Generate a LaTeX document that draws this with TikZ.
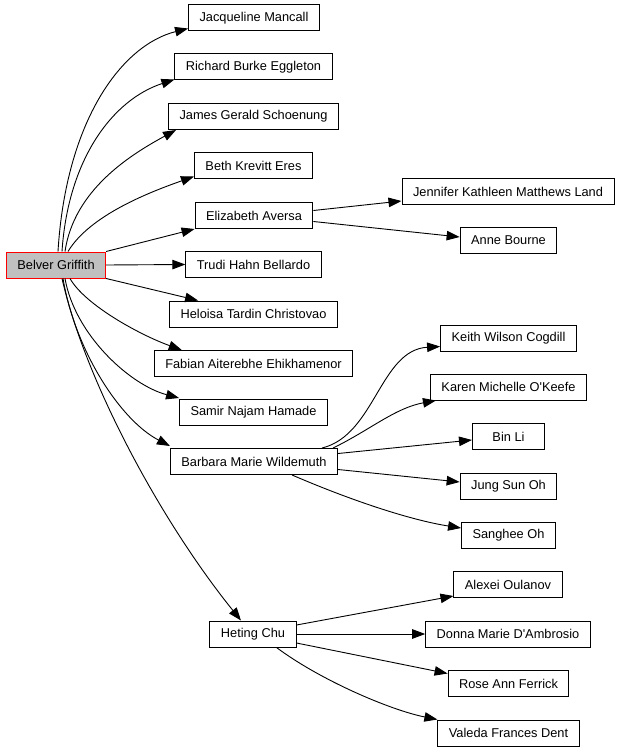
\documentclass[tikz,border=0pt]{standalone}
\usepackage{fontspec}
\setmainfont{Liberation Sans}
\usepackage{tikz}
\usetikzlibrary{arrows.meta}
\definecolor{rootgray}{HTML}{C0C0C0}

\begin{document}
\begin{tikzpicture}[x=1pt, y=-1pt,
  person/.style={rectangle, draw=black, line width=1pt, fill=white, minimum height=26pt, minimum width=72pt, inner xsep=11pt, font=\fontsize{12.8}{14}\selectfont},
  root/.style={person, draw=red, fill=rootgray},
  arr/.style={line width=0.9pt, -{Triangle[length=13pt, width=9.5pt]}}]

\useasboundingbox (0,0) rectangle (622,751);

\node at (56,265) [root] (bg) {Belver Griffith};

\node at (254,18) [person] (jm) {Jacqueline Mancall};
\node at (253.5,67) [person] (rbe) {Richard Burke Eggleton};
\node at (253.5,116.5) [person] (jgs) {James Gerald Schoenung};
\node at (253.5,166) [person] (bke) {Beth Krevitt Eres};
\node at (254,215.5) [person] (ea) {Elizabeth Aversa};
\node at (253.5,264.5) [person] (thb) {Trudi Hahn Bellardo};
\node at (253.5,314) [person] (htc) {Heloisa Tardin Christovao};
\node at (253.5,363.5) [person] (fae) {Fabian Aiterebhe Ehikhamenor};
\node at (253.5,412.5) [person] (snh) {Samir Najam Hamade};
\node at (254,461.5) [person] (bmw) {Barbara Marie Wildemuth};
\node at (253,634) [person] (hc) {Heting Chu};

\node at (508,191.5) [person] (jkml) {Jennifer Kathleen Matthews Land};
\node at (508.5,240) [person] (ab) {Anne Bourne};

\node at (508.5,338) [person] (kwc) {Keith Wilson Cogdill};
\node at (508.5,387) [person] (kmo) {Karen Michelle O\textquotesingle Keefe};
\node at (508.5,436.5) [person] (bl) {Bin Li};
\node at (508.5,486) [person] (jso) {Jung Sun Oh};
\node at (508.5,535.5) [person] (so) {Sanghee Oh};

\node at (508,584.5) [person] (ao) {Alexei Oulanov};
\node at (508,634) [person] (dmd) {Donna Marie D\textquotesingle Ambrosio};
\node at (508.5,683.5) [person] (raf) {Rose Ann Ferrick};
\node at (508.5,733) [person] (vfd) {Valeda Frances Dent};

% Belver Griffith, upper branches
\draw [arr] ([xshift=2pt]bg.north) .. controls (66,120) and (122,45) .. ([yshift=3pt]jm.south west);
\draw [arr] ([xshift=6pt]bg.north) .. controls (68,160) and (112,100) .. ([yshift=1pt]rbe.south west);
\draw [arr] ([xshift=9pt]bg.north) .. controls (74,190) and (130,155) .. ([xshift=8pt]jgs.south west);
\draw [arr] ([xshift=12pt]bg.north) .. controls (90,215) and (150,192) .. ([yshift=3pt]bke.south west);
\draw [arr] (bg.north east) -- (ea.south west);
\draw [arr] (bg.east) -- (thb.west);

% Belver Griffith, lower branches
\draw [arr] (bg.south east) -- ([xshift=29pt]htc.north west);
\draw [arr] ([xshift=14pt]bg.south) .. controls (85,305) and (140,335) .. ([xshift=28pt]fae.north west);
\draw [arr] ([xshift=9pt]bg.south) .. controls (75,335) and (130,385) .. ([yshift=1pt]snh.north west);
\draw [arr] ([xshift=7pt]bg.south) .. controls (75,350) and (120,420) .. ([yshift=2pt]bmw.north west);
\draw [arr] ([xshift=6pt]bg.south) .. controls (85,380) and (160,520) .. ([xshift=-12pt]hc.north);

% Elizabeth Aversa
\draw [arr] ([yshift=5pt]ea.east) -- ([yshift=4pt]jkml.south west);
\draw [arr] ([yshift=-6pt]ea.east) -- ([yshift=3pt]ab.west);

% Barbara Marie Wildemuth
\draw [arr] ([xshift=-16pt]bmw.north east) .. controls (375,435) and (380,350) .. ([yshift=5pt]kwc.south west);
\draw [arr] ([xshift=-5pt]bmw.north east) .. controls (370,430) and (395,408) .. ([xshift=6pt]kmo.south west);
\draw [arr] ([yshift=8pt]bmw.east) -- ([yshift=-3.5pt]bl.west);
\draw [arr] ([yshift=-8pt]bmw.east) -- ([yshift=4pt]jso.west);
\draw [arr] ([xshift=-46pt]bmw.south east) .. controls (350,500) and (410,520) .. ([yshift=7.5pt]so.west);

% Heting Chu
\draw [arr] ([yshift=9pt]hc.east) -- ([yshift=2pt]ao.south west);
\draw [arr] (hc.east) -- (dmd.west);
\draw [arr] ([yshift=-9pt]hc.east) -- ([yshift=10pt]raf.west);
\draw [arr] ([xshift=-20pt]hc.south east) .. controls (320,680) and (390,710) .. (vfd.north west);

\end{tikzpicture}
\end{document}
